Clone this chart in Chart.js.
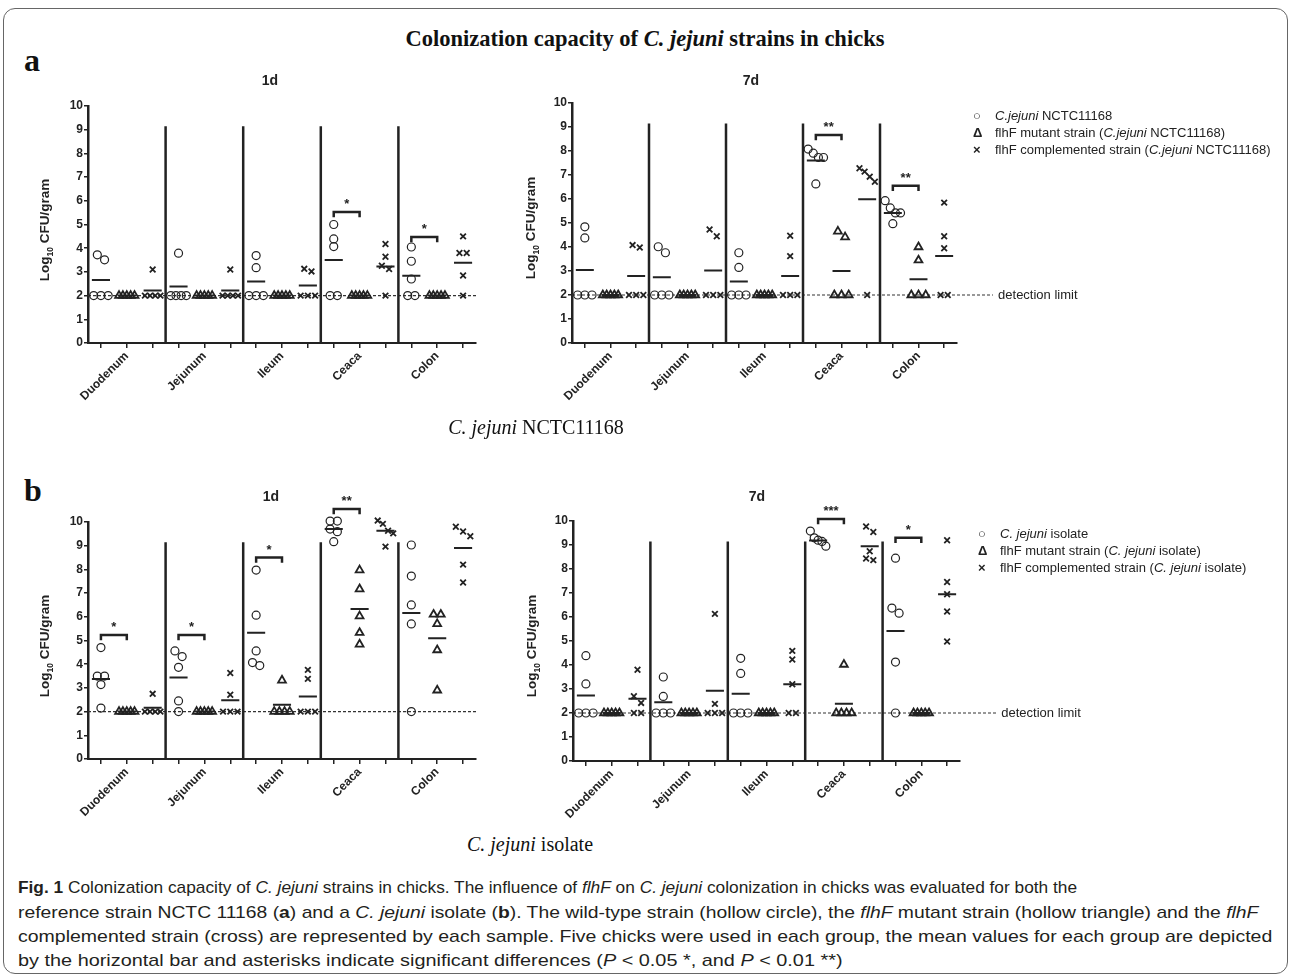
<!DOCTYPE html>
<html>
<head>
<meta charset="utf-8">
<script src="https://cdn.jsdelivr.net/npm/chart.js@4.4.0/dist/chart.umd.min.js"></script>
<style>
    body { margin: 0; background: #fff; }
    #page { position: relative; width: 1293px; height: 980px; overflow: hidden; background: #fff; color: #222; font-family: "Liberation Sans", Arial, sans-serif; }
    .frame { position: absolute; left: 3px; top: 8px; width: 1285px; height: 966px; border: 1.5px solid #666; border-radius: 12px; box-sizing: border-box; }
    .abs { position: absolute; white-space: nowrap; }
    canvas { position: absolute; }
    .serif { font-family: "Liberation Serif", "Times New Roman", serif; color: #111; }
    .ptitle { font-weight: bold; font-size: 14px; transform: translateX(-50%); }
    .ytitle { font-weight: bold; font-size: 13.5px; transform: translate(-50%, -50%) rotate(-90deg); }
    .ytitle sub { font-size: 8.5px; }
    .legend { font-size: 13px; line-height: 17px; color: #222; }
    .legend .sym { display: inline-block; width: 22px; text-align: left; font-weight: bold; }
    .caption { font-size: 17px; color: #231f20; transform-origin: 0 0; }
</style>
</head>
<body>
<div id="page">
    <div class="frame"></div>

    <div class="abs serif" style="left:645px;top:26px;transform:translateX(-50%);font-weight:bold;font-size:22.5px;">Colonization capacity of <i>C. jejuni</i> strains in chicks</div>
    <div class="abs serif" style="left:24px;top:42px;font-weight:bold;font-size:32px;">a</div>
    <div class="abs serif" style="left:24px;top:472px;font-weight:bold;font-size:32px;">b</div>

    <canvas id="a1" width="440" height="357" style="left:50px;top:56px"></canvas>
    <canvas id="a7" width="596" height="360" style="left:534px;top:53px"></canvas>
    <canvas id="b1" width="440" height="357" style="left:50px;top:472px"></canvas>
    <canvas id="b7" width="595" height="360" style="left:535px;top:471px"></canvas>

    <div class="abs ptitle" style="left:270px;top:72px">1d</div>
    <div class="abs ptitle" style="left:751px;top:72px">7d</div>
    <div class="abs ptitle" style="left:271px;top:488px">1d</div>
    <div class="abs ptitle" style="left:757px;top:488px">7d</div>

    <div class="abs ytitle" style="left:46px;top:230px">Log<sub>10</sub> CFU/gram</div>
    <div class="abs ytitle" style="left:532px;top:228px">Log<sub>10</sub> CFU/gram</div>
    <div class="abs ytitle" style="left:46px;top:646px">Log<sub>10</sub> CFU/gram</div>
    <div class="abs ytitle" style="left:533px;top:646px">Log<sub>10</sub> CFU/gram</div>

    <div class="abs legend" style="left:973px;top:107px">
        <div><span class="sym" style="font-weight:normal">○</span><i>C.jejuni</i> NCTC11168</div>
        <div><span class="sym">Δ</span>flhF mutant strain (<i>C.jejuni</i> NCTC11168)</div>
        <div><span class="sym">×</span>flhF complemented strain (<i>C.jejuni</i> NCTC11168)</div>
    </div>
    <div class="abs legend" style="left:978px;top:525px">
        <div><span class="sym" style="font-weight:normal">○</span><i>C. jejuni</i> isolate</div>
        <div><span class="sym">Δ</span>flhF mutant strain (<i>C. jejuni</i> isolate)</div>
        <div><span class="sym">×</span>flhF complemented strain (<i>C. jejuni</i> isolate)</div>
    </div>

    <div class="abs serif" style="left:536px;top:416px;transform:translateX(-50%);font-size:20px;"><i>C. jejuni</i> NCTC11168</div>
    <div class="abs serif" style="left:530px;top:833px;transform:translateX(-50%);font-size:20px;"><i>C. jejuni</i> isolate</div>

    <div class="abs caption" data-end="1077" style="left:18px;top:878px"><b>Fig. 1</b> Colonization capacity of <i>C. jejuni</i> strains in chicks. The influence of <i>flhF</i> on <i>C. jejuni</i> colonization in chicks was evaluated for both the</div>
    <div class="abs caption" data-end="1258" style="left:18px;top:903px">reference strain NCTC 11168 (<b>a</b>) and a <i>C. jejuni</i> isolate (<b>b</b>). The wild-type strain (hollow circle), the <i>flhF</i> mutant strain (hollow triangle) and the <i>flhF</i></div>
    <div class="abs caption" data-end="1272" style="left:18px;top:927px">complemented strain (cross) are represented by each sample. Five chicks were used in each group, the mean values for each group are depicted</div>
    <div class="abs caption" data-end="843" style="left:18px;top:951px">by the horizontal bar and asterisks indicate significant differences (<i>P</i> &lt; 0.05 *, and <i>P</i> &lt; 0.01 **)</div>
</div>

<script>
// Gut sites and y axis
const sites = ['Duodenum', 'Jejunum', 'Ileum', 'Ceaca', 'Colon'];
const yTicks = [0, 1, 2, 3, 4, 5, 6, 7, 8, 9, 10];
const detectionLimit = 2;

// Panel a (NCTC11168), day 1 - five chicks per site
const a1Wild   = [[3.72, 3.51, 2, 2, 2], [3.79, 2, 2, 2, 2], [3.69, 3.18, 2, 2, 2], [5.0, 4.39, 4.07, 2, 2], [4.05, 3.45, 2.7, 2, 2]];
const a1Mutant = [[2, 2, 2, 2, 2], [2, 2, 2, 2, 2], [2, 2, 2, 2, 2], [2, 2, 2, 2, 2], [2, 2, 2, 2, 2]];
const a1Comp   = [[3.1, 2, 2, 2, 2], [3.1, 2, 2, 2, 2], [3.13, 3.02, 2, 2, 2], [4.18, 3.64, 3.26, 3.12, 2], [4.5, 3.8, 3.8, 2.85, 2]];
const a1MeanWild   = [2.66, 2.38, 2.59, 3.5, 2.84];
const a1MeanMutant = [2, 2, 2, 2, 2];
const a1MeanComp   = [2.22, 2.22, 2.43, 3.23, 3.39];
const a1Sig = [[3, '*', 5.53], [4, '*', 4.47]];

// Panel a, day 7
const a7Wild   = [[4.84, 4.38, 2, 2, 2], [4.01, 3.76, 2, 2, 2], [3.76, 3.15, 2, 2, 2], [8.08, 7.91, 7.73, 7.73, 6.63], [5.93, 5.63, 5.42, 5.42, 4.97]];
const a7Mutant = [[2, 2, 2, 2, 2], [2, 2, 2, 2, 2], [2, 2, 2, 2, 2], [4.65, 4.41, 2, 2, 2], [4.0, 3.45, 2, 2, 2]];
const a7Comp   = [[4.08, 3.98, 2, 2, 2], [4.73, 4.45, 2, 2, 2], [4.47, 3.62, 2, 2, 2], [7.28, 7.14, 6.93, 6.72, 2], [5.85, 4.45, 3.95, 2, 2]];
const a7MeanWild   = [3.04, 2.74, 2.56, 7.6, 5.42];
const a7MeanMutant = [2, 2, 2, 3.0, 2.66];
const a7MeanComp   = [2.79, 3.02, 2.79, 5.99, 3.62];
const a7Sig = [[3, '**', 8.67], [4, '**', 6.55]];

// Panel b (isolate), day 1
const b1Wild   = [[4.7, 3.5, 3.5, 3.14, 2.15], [4.56, 4.32, 3.87, 2.45, 2.0], [7.97, 6.07, 4.56, 4.07, 3.94], [10.04, 10.04, 9.7, 9.59, 9.17], [9.03, 7.72, 6.5, 5.7, 2.0]];
const b1Mutant = [[2, 2, 2, 2, 2], [2, 2, 2, 2, 2], [3.32, 2, 2, 2, 2], [7.97, 7.17, 6.03, 5.33, 4.84], [6.1, 6.1, 5.7, 4.6, 2.9]];
const b1Comp   = [[2.75, 2, 2, 2, 2], [3.63, 2.71, 2, 2, 2], [3.76, 3.38, 2, 2, 2], [10.06, 9.92, 9.63, 9.52, 8.96], [9.8, 9.6, 9.4, 8.2, 7.45]];
const b1MeanWild   = [3.38, 3.44, 5.33, 9.7, 6.16];
const b1MeanMutant = [2, 2, 2.29, 6.33, 5.1];
const b1MeanComp   = [2.16, 2.48, 2.64, 9.63, 8.9];
const b1Sig = [[0, '*', 5.23], [1, '*', 5.23], [2, '*', 8.5], [3, '**', 10.55]];

// Panel b, day 7
const b7Wild   = [[4.39, 3.21, 2, 2, 2], [3.5, 2.69, 2, 2, 2], [4.28, 3.65, 2, 2, 2], [9.58, 9.3, 9.2, 9.15, 8.95], [8.45, 6.37, 6.16, 4.12, 2]];
const b7Mutant = [[2, 2, 2, 2, 2], [2, 2, 2, 2, 2], [2, 2, 2, 2, 2], [4.02, 2, 2, 2, 2], [2, 2, 2, 2, 2]];
const b7Comp   = [[3.8, 2.7, 2.42, 2, 2], [6.13, 2.38, 2, 2, 2], [4.59, 4.23, 3.2, 2, 2], [9.77, 9.54, 8.74, 8.44, 8.37], [9.2, 7.46, 6.95, 6.23, 4.98]];
const b7MeanWild   = [2.73, 2.45, 2.8, 9.19, 5.42];
const b7MeanMutant = [2, 2, 2, 2.39, 2];
const b7MeanComp   = [2.59, 2.93, 3.2, 8.95, 6.95];
const b7Sig = [[3, '***', 10.08], [4, '*', 9.3]];

Chart.defaults.font.family = '"Liberation Sans", Arial, sans-serif';
Chart.defaults.color = '#222';

const ink = '#222';

// spread points that would overlap sideways, like a column scatter plot
function spread(values) {
    const order = values.map((v, i) => i).sort((a, b) => values[b] - values[a]);
    const offsets = new Array(values.length).fill(0);
    let group = [];
    const flush = () => {
        const n = group.length;
        const step = n > 1 ? Math.min(0.28, 0.6 / (n - 1)) : 0;
        group.forEach((k, j) => { offsets[k] = (j - (n - 1) / 2) * step; });
        group = [];
    };
    order.forEach(k => {
        if (group.length && values[group[group.length - 1]] - values[k] > 0.3) flush();
        group.push(k);
    });
    flush();
    return offsets;
}

// draws asterisks over the brackets and the detection limit label
const textPlugin = {
    id: 'panelText',
    afterDatasetsDraw(chart, args, opts) {
        const { ctx, scales: { x, y } } = chart;
        ctx.save();
        ctx.fillStyle = ink;
        ctx.textAlign = 'center';
        ctx.textBaseline = 'alphabetic';
        ctx.font = 'bold 13px "Liberation Sans", Arial, sans-serif';
        (opts.stars || []).forEach(s => {
            ctx.fillText(s.text, x.getPixelForValue(s.x), y.getPixelForValue(s.y) + 2);
        });
        if (opts.limitAt) {
            ctx.font = '13px "Liberation Sans", Arial, sans-serif';
            ctx.textAlign = 'left';
            ctx.textBaseline = 'middle';
            ctx.fillText('detection limit', x.getPixelForValue(opts.limitAt), y.getPixelForValue(detectionLimit));
        }
        ctx.restore();
    }
};

function drawPanel(id, groups, means, sig, geo, withLimit) {
    const styles = ['circle', 'triangle', 'crossRot'];
    const widths = [1.2, 1.8, 1.8];
    const datasets = [];

    // points for each strain
    groups.forEach((strain, k) => {
        const pts = [];
        strain.forEach((vals, s) => {
            const off = spread(vals);
            vals.forEach((v, i) => pts.push({ x: s * 3 + k + 0.5 + off[i], y: v }));
        });
        datasets.push({
            type: 'scatter', data: pts, pointStyle: styles[k], pointRadius: k === 1 ? 4.5 : 4,
            borderColor: ink, backgroundColor: 'rgba(0,0,0,0)', borderWidth: widths[k], clip: false
        });
    });

    // mean bars
    const meanPts = [];
    means.forEach((row, k) => row.forEach((m, s) => {
        const c = s * 3 + k + 0.5;
        meanPts.push({ x: c - 0.35, y: m }, { x: c + 0.35, y: m }, { x: c, y: null });
    }));
    datasets.push({ type: 'line', data: meanPts, borderColor: ink, borderWidth: 2, pointRadius: 0, spanGaps: false, clip: false });

    // significance brackets, wild type to mutant
    const brPts = [];
    const stars = [];
    sig.forEach(([s, text, h]) => {
        const c1 = s * 3 + 0.5, c2 = s * 3 + 1.5;
        brPts.push({ x: c1, y: h - 0.22 }, { x: c1, y: h }, { x: c2, y: h }, { x: c2, y: h - 0.22 }, { x: c2, y: null });
        stars.push({ x: (c1 + c2) / 2, y: h + 0.25, text: text });
    });
    datasets.push({ type: 'line', data: brPts, borderColor: ink, borderWidth: 2.5, pointRadius: 0, spanGaps: false, clip: false });

    // separators between sites
    const sepPts = [];
    [3, 6, 9, 12].forEach(xv => sepPts.push({ x: xv, y: 0 }, { x: xv, y: 9.15 }, { x: xv, y: null }));
    datasets.push({ type: 'line', data: sepPts, borderColor: ink, borderWidth: 2.5, pointRadius: 0, spanGaps: false });

    // detection limit
    datasets.push({
        type: 'line', data: [{ x: 0, y: detectionLimit }, { x: withLimit ? 16.4 : 15, y: detectionLimit }],
        borderColor: '#333', borderWidth: 1.1, borderDash: [3, 2], pointRadius: 0, clip: false
    });

    new Chart(document.getElementById(id), {
        type: 'scatter',
        data: { datasets: datasets },
        options: {
            responsive: false,
            animation: false,
            devicePixelRatio: 1,
            layout: { padding: { top: geo.padTop, right: geo.padRight, left: 0, bottom: 0 } },
            plugins: {
                legend: { display: false },
                tooltip: { enabled: false },
                panelText: { stars: stars, limitAt: withLimit ? 16.6 : null }
            },
            scales: {
                x: {
                    type: 'linear', min: 0, max: 15,
                    afterBuildTicks: scale => { scale.ticks = Array.from({ length: 15 }, (_, i) => ({ value: i + 0.5 })); },
                    afterFit: scale => { scale.height = 70; },
                    ticks: {
                        autoSkip: false, minRotation: 45, maxRotation: 45, padding: 1,
                        font: { weight: 'bold', size: 12 }, color: ink,
                        callback: value => {
                            const i = Math.round(value - 0.5);
                            return i % 3 === 1 ? sites[(i - 1) / 3] : '';
                        }
                    },
                    grid: { display: true, drawOnChartArea: false, drawTicks: true, tickLength: 5, color: ink, lineWidth: 1.5 },
                    border: { display: true, color: ink, width: 2 }
                },
                y: {
                    min: 0, max: 10,
                    afterBuildTicks: scale => { scale.ticks = yTicks.map(v => ({ value: v })); },
                    afterFit: scale => { scale.width = 38; },
                    ticks: { font: { weight: 'bold', size: 12 }, color: ink, padding: 1 },
                    grid: { display: true, drawOnChartArea: false, drawTicks: true, tickLength: 4, color: ink, lineWidth: 1.5 },
                    border: { display: true, color: ink, width: 2.5 }
                }
            }
        },
        plugins: [textPlugin]
    });
}

drawPanel('a1', [a1Wild, a1Mutant, a1Comp], [a1MeanWild, a1MeanMutant, a1MeanComp], a1Sig, { padTop: 50, padRight: 14 }, false);
drawPanel('a7', [a7Wild, a7Mutant, a7Comp], [a7MeanWild, a7MeanMutant, a7MeanComp], a7Sig, { padTop: 50, padRight: 173 }, true);
drawPanel('b1', [b1Wild, b1Mutant, b1Comp], [b1MeanWild, b1MeanMutant, b1MeanComp], b1Sig, { padTop: 50, padRight: 14 }, false);
drawPanel('b7', [b7Wild, b7Mutant, b7Comp], [b7MeanWild, b7MeanMutant, b7MeanComp], b7Sig, { padTop: 50, padRight: 170 }, true);

// squeeze caption lines to the condensed widths of the figure legend
document.querySelectorAll('.caption').forEach(el => {
    const target = Number(el.dataset.end) - 18;
    el.style.transform = 'scaleX(' + (target / el.offsetWidth) + ')';
});
</script>
</body>
</html>
